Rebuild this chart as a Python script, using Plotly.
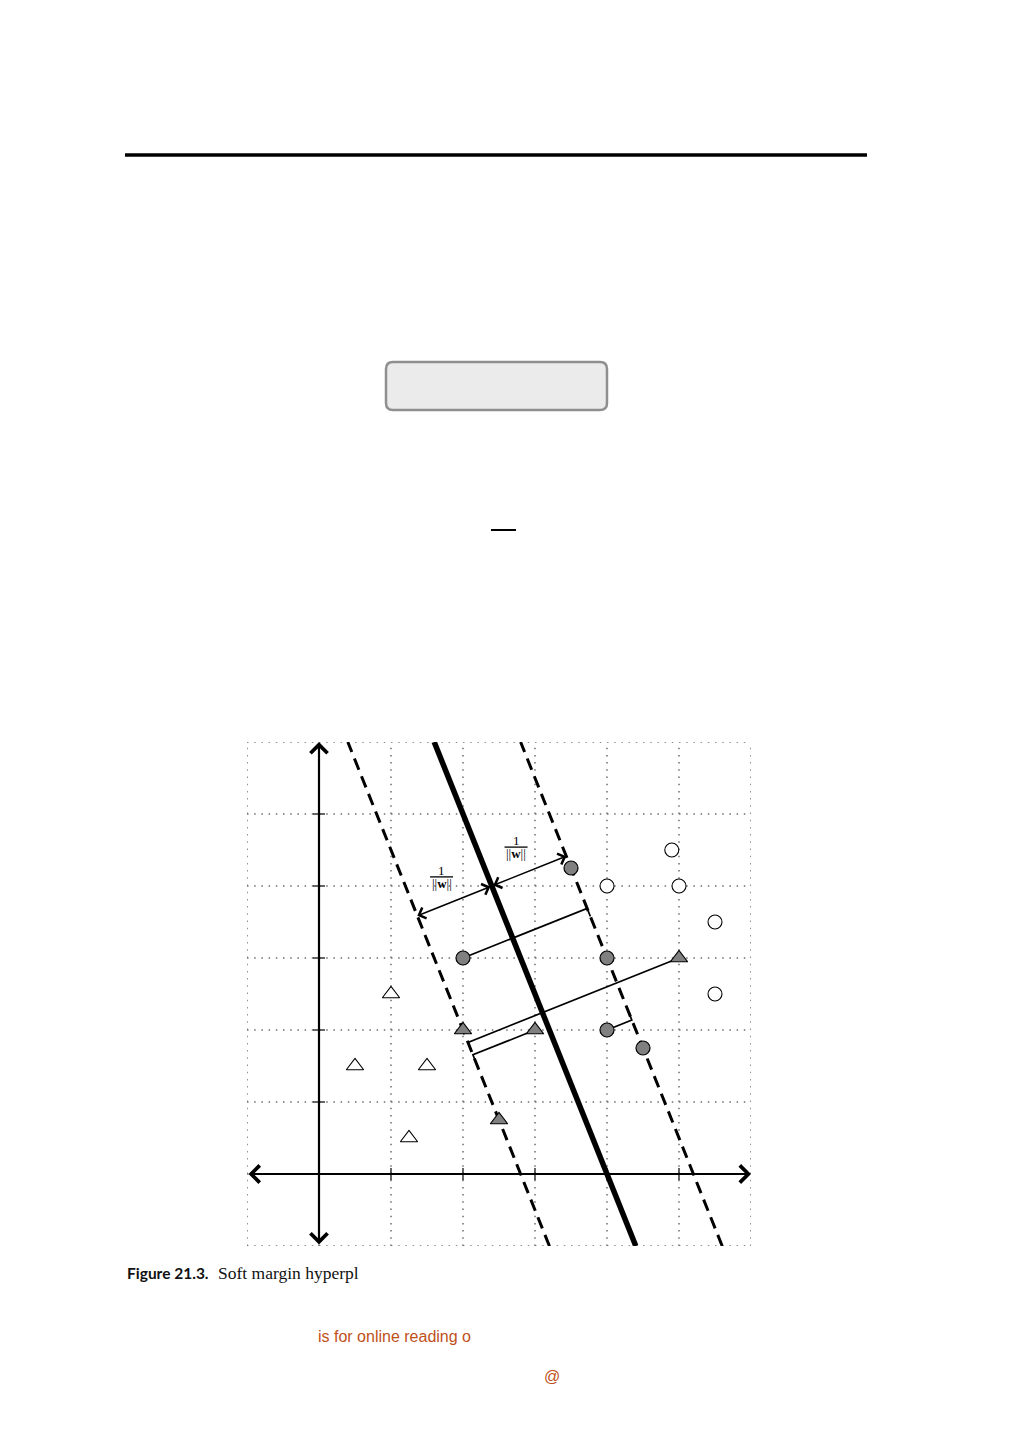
import numpy as np
import plotly.graph_objects as go

# ---------------- data ----------------
open_circle_x = [4.9, 4.0, 5.0, 5.5, 5.5]
open_circle_y = [4.5, 4.0, 4.0, 3.5, 2.5]
gray_circle_x = [3.5, 2.0, 4.0, 4.0, 4.5]
gray_circle_y = [4.25, 3.0, 3.0, 2.0, 1.75]
open_tri_x = [1.0, 0.5, 1.5, 1.25]
open_tri_y = [2.5, 1.5, 1.5, 0.5]
gray_tri_x = [5.0, 2.0, 3.0, 2.5]
gray_tri_y = [3.0, 2.0, 2.0, 0.75]

# hyperplane w.x = b, margins w.x = b +/- m
w_vec = [1.0, 0.4]
bias = 4.0
margin_m = 1.2

# slack points (class +1 -> upper margin, -1 -> lower margin)
slack_x = [2.0, 4.0, 5.0, 3.0]
slack_y = [3.0, 2.0, 3.0, 2.0]
slack_cls = [1, 1, -1, -1]
slack_tick = [-1, 1, -1, -1]

# point on hyperplane where the 1/||w|| arrows meet
anchor_y = 4.0

x_range = [-1, 6]
y_range = [-1, 6]
grid_vals = list(range(-1, 7))
tick_vals = [1, 2, 3, 4, 5]

# ---------------- page geometry ----------------
W, H = 1009, 1441
PX_L, PX_R, PX_T, PX_B = 247, 751, 742, 1246
ppu = (PX_R - PX_L) / (x_range[1] - x_range[0])


def px(x):
    return x / W


def py(y):
    return 1 - y / H


fig = go.Figure()

w = np.array(w_vec)
wn2 = float(w @ w)


def line_x_at(y, level):
    return (level - w[1] * y) / w[0]


ys = np.array(y_range, dtype=float)
# margins (dashed)
for level in (bias - margin_m, bias + margin_m):
    fig.add_trace(go.Scatter(x=line_x_at(ys, level), y=ys, mode="lines",
                             line=dict(color="black", width=3, dash="12px,7px"),
                             hoverinfo="skip", showlegend=False))
# hyperplane
fig.add_trace(go.Scatter(x=line_x_at(ys, bias), y=ys, mode="lines",
                         line=dict(color="black", width=5.5),
                         hoverinfo="skip", showlegend=False))

# slack lines with small tick along the margin
d = np.array([-w[1], w[0]]) / np.sqrt(wn2)
tick_len = 0.12
for sx, sy, c, td in zip(slack_x, slack_y, slack_cls, slack_tick):
    p = np.array([sx, sy])
    level = bias + c * margin_m
    t = (level - w @ p) / wn2
    q = p + t * w
    r = q + td * tick_len * d
    fig.add_trace(go.Scatter(x=[p[0], q[0], r[0]], y=[p[1], q[1], r[1]], mode="lines",
                             line=dict(color="black", width=1.7),
                             hoverinfo="skip", showlegend=False))

# markers
fig.add_trace(go.Scatter(x=open_circle_x, y=open_circle_y, mode="markers",
                         marker=dict(symbol="circle", size=14, color="white",
                                     line=dict(color="black", width=1.1)),
                         hoverinfo="skip", showlegend=False))
fig.add_trace(go.Scatter(x=gray_circle_x, y=gray_circle_y, mode="markers",
                         marker=dict(symbol="circle", size=14, color="#808080",
                                     line=dict(color="black", width=1.2)),
                         hoverinfo="skip", showlegend=False))
fig.add_trace(go.Scatter(x=open_tri_x, y=open_tri_y, mode="markers",
                         marker=dict(symbol="triangle-up", size=15, color="white",
                                     line=dict(color="black", width=1.1)),
                         hoverinfo="skip", showlegend=False))
fig.add_trace(go.Scatter(x=gray_tri_x, y=gray_tri_y, mode="markers",
                         marker=dict(symbol="triangle-up", size=15, color="#808080",
                                     line=dict(color="black", width=1.2)),
                         hoverinfo="skip", showlegend=False))

shapes = []
# dotted grid
for g in grid_vals:
    shapes.append(dict(type="line", xref="x", yref="y", x0=g, x1=g, y0=y_range[0], y1=y_range[1],
                       line=dict(color="#6e6e6e", width=1.5, dash="1.5px,5.7px"), layer="below"))
    shapes.append(dict(type="line", xref="x", yref="y", y0=g, y1=g, x0=x_range[0], x1=x_range[1],
                       line=dict(color="#6e6e6e", width=1.5, dash="1.5px,5.7px"), layer="below"))
# axis ticks
tk = 6 / ppu
for t in tick_vals:
    shapes.append(dict(type="line", xref="x", yref="y", x0=t, x1=t, y0=-tk, y1=tk,
                       line=dict(color="black", width=1.2), layer="below"))
    shapes.append(dict(type="line", xref="x", yref="y", y0=t, y1=t, x0=-tk, x1=tk,
                       line=dict(color="black", width=1.2), layer="below"))

annotations = []
# axes with double arrows
annotations.append(dict(x=x_range[1], y=0, ax=x_range[0], ay=0, xref="x", yref="y",
                        axref="x", ayref="y", text="", showarrow=True, arrowside="end+start",
                        arrowhead=4, arrowsize=1.5, arrowwidth=2.2, arrowcolor="black"))
annotations.append(dict(x=0, y=y_range[1], ax=0, ay=y_range[0], xref="x", yref="y",
                        axref="x", ayref="y", text="", showarrow=True, arrowside="end+start",
                        arrowhead=4, arrowsize=1.5, arrowwidth=2.2, arrowcolor="black"))

# 1/||w|| arrows
P = np.array([line_x_at(anchor_y, bias), anchor_y])
for sgn in (-1, 1):
    Q = P + sgn * (margin_m / wn2) * w
    annotations.append(dict(x=Q[0], y=Q[1], ax=P[0], ay=P[1], xref="x", yref="y",
                            axref="x", ayref="y", text="", showarrow=True,
                            arrowside="end+start", arrowhead=4, arrowsize=1.5,
                            arrowwidth=1.5, arrowcolor="black", standoff=0, startstandoff=0))
    mid = (P + Q) / 2
    lx = mid[0] - 13 / ppu
    ly = mid[1] + 24 / ppu
    shapes.append(dict(type="line", xref="x", yref="y", x0=lx - 11.5 / ppu, x1=lx + 11.5 / ppu,
                       y0=ly, y1=ly, line=dict(color="black", width=1.3), layer="above"))
    annotations.append(dict(x=lx, y=ly, xref="x", yref="y", text="1", showarrow=False,
                            xanchor="center", yanchor="bottom", yshift=-3,
                            font=dict(family="Liberation Serif", size=13, color="black")))
    annotations.append(dict(x=lx, y=ly, xref="x", yref="y", text="||<b>w</b>||", showarrow=False,
                            xanchor="center", yanchor="top", yshift=3,
                            font=dict(family="Liberation Serif", size=13, color="black")))

# page decorations
shapes.append(dict(type="line", xref="paper", yref="paper", x0=px(125), x1=px(867),
                   y0=py(155), y1=py(155), line=dict(color="black", width=3.5)))
bx0, bx1, by0, by1, rr = 386, 607, 362, 410, 7
path = (f"M {px(bx0 + rr)},{py(by0)} L {px(bx1 - rr)},{py(by0)} "
        f"Q {px(bx1)},{py(by0)} {px(bx1)},{py(by0 + rr)} L {px(bx1)},{py(by1 - rr)} "
        f"Q {px(bx1)},{py(by1)} {px(bx1 - rr)},{py(by1)} L {px(bx0 + rr)},{py(by1)} "
        f"Q {px(bx0)},{py(by1)} {px(bx0)},{py(by1 - rr)} L {px(bx0)},{py(by0 + rr)} "
        f"Q {px(bx0)},{py(by0)} {px(bx0 + rr)},{py(by0)} Z")
shapes.append(dict(type="path", xref="paper", yref="paper", path=path,
                   fillcolor="#ebebeb", line=dict(color="#8f8f8f", width=2.5)))
shapes.append(dict(type="line", xref="paper", yref="paper", x0=px(491), x1=px(516),
                   y0=py(530), y1=py(530), line=dict(color="black", width=2)))

annotations.append(dict(x=px(125), y=py(1273), xref="paper", yref="paper",
                        text="<b>Figure 21.3.</b>", showarrow=False, xanchor="left", yanchor="middle",
                        font=dict(family="Lato", size=15.5, color="#111111")))
annotations.append(dict(x=px(216), y=py(1273), xref="paper", yref="paper",
                        text="Soft margin hyperpl", showarrow=False, xanchor="left", yanchor="middle",
                        font=dict(family="Liberation Serif", size=17.5, color="#111111")))
annotations.append(dict(x=px(316), y=py(1336), xref="paper", yref="paper",
                        text="is for online reading o", showarrow=False, xanchor="left", yanchor="middle",
                        font=dict(family="Liberation Sans", size=16, color="#c0501a")))
annotations.append(dict(x=px(542), y=py(1376), xref="paper", yref="paper",
                        text="@", showarrow=False, xanchor="left", yanchor="middle",
                        font=dict(family="Liberation Sans", size=16, color="#c0501a")))

fig.update_layout(
    width=W, height=H, margin=dict(l=0, r=0, t=0, b=0),
    paper_bgcolor="white", plot_bgcolor="white",
    xaxis=dict(range=x_range, domain=[PX_L / W, PX_R / W], showgrid=False, zeroline=False,
               showticklabels=False, ticks="", showline=False, fixedrange=True),
    yaxis=dict(range=y_range, domain=[1 - PX_B / H, 1 - PX_T / H], showgrid=False, zeroline=False,
               showticklabels=False, ticks="", showline=False, fixedrange=True),
    shapes=shapes, annotations=annotations, showlegend=False,
)

fig.write_html("out.html", config={"displayModeBar": False},
               post_script="document.body.style.margin='0';document.body.style.overflow='hidden';")
